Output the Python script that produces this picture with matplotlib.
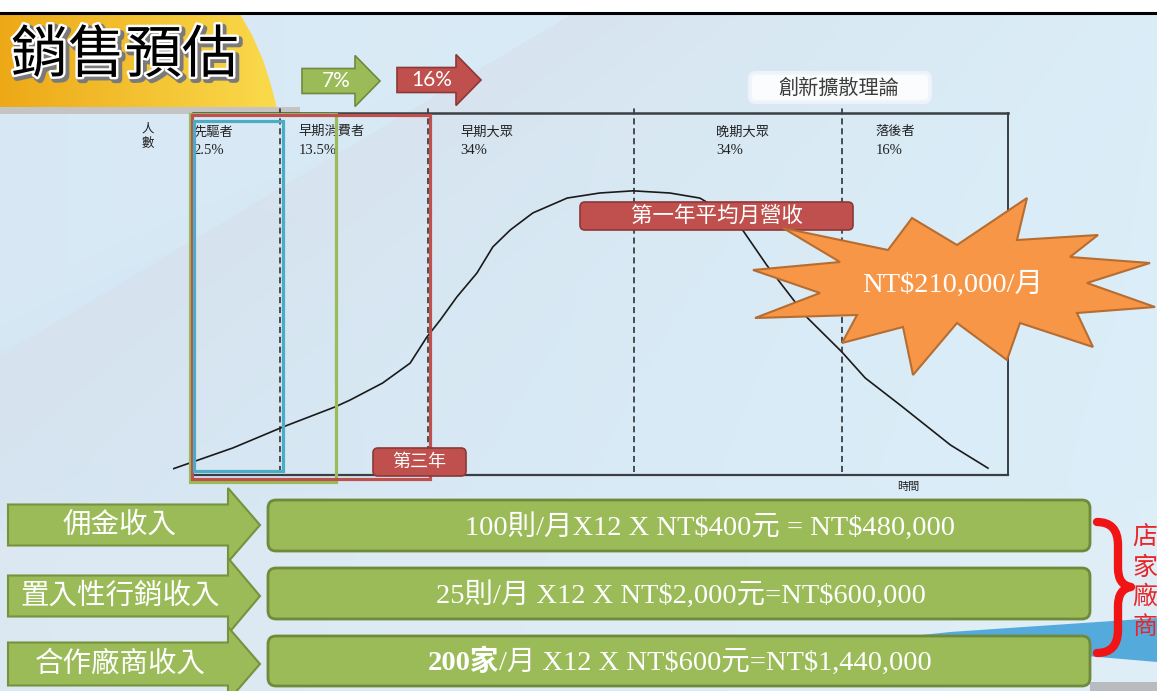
import numpy as np
import matplotlib
matplotlib.use('Agg')
import matplotlib.pyplot as plt
from matplotlib.patches import Polygon, FancyBboxPatch, Rectangle, PathPatch
from matplotlib.path import Path
import matplotlib.patheffects as pe

plt.rcParams['font.family'] = ['Noto Sans CJK TC', 'DejaVu Sans']

# ------------------------------------------------------------------ data
title = '銷售預估'
theory_label = '創新擴散理論'
adopter_names = ['先驅者', '早期消費者', '早期大眾', '晚期大眾', '落後者']
adopter_shares = ['2.5%', '13.5%', '34%', '34%', '16%']
segment_bounds = [12.8, 30.5, 55.2, 80.1]          # time where segments change
curve_time = [0.0, 7.2, 13.2, 19.4, 21.2, 25.1, 28.4, 30.4, 32.0, 34.0, 36.4,
              38.3, 40.4, 43.1, 47.2, 51.1, 55.1, 59.5, 63.1, 65.5, 68.3,
              71.1, 75.9, 80.1, 82.9, 87.1, 93.1, 97.6]
curve_people = [1.7, 7.5, 13.3, 18.8, 20.7, 25.4, 30.9, 38.1, 42.8, 49.2, 55.8,
                63.0, 67.7, 72.4, 76.5, 77.9, 78.5, 77.9, 76.5, 73.2, 67.4,
                58.0, 43.6, 34.0, 26.8, 19.3, 8.3, 1.9]
y_axis_label = '人\n數'
x_axis_label = '時間'
growth_steps = ['7%', '16%']
year_tag = '第三年'
revenue_title = '第一年平均月營收'
monthly_revenue = 'NT$210,000/月'
income_sources = ['佣金收入', '置入性行銷收入', '合作廠商收入']
income_bold = ['', '', '200家']
income_rest = ['100則/月X12 X NT$400元 = NT$480,000',
               '25則/月 X12 X NT$2,000元=NT$600,000',
               '/月 X12 X NT$600元=NT$1,440,000']
side_label = '店家廠商'

# ------------------------------------------------------------------ figure
W, H = 1157, 691
fig = plt.figure(figsize=(W / 100, H / 100), dpi=100)

def pixel_axes(z):
    a = fig.add_axes([0, 0, 1, 1], zorder=z)
    a.set_xlim(0, W)
    a.set_ylim(H, 0)
    a.axis('off')
    a.patch.set_alpha(0)
    return a

bg = pixel_axes(0)

# background gradient
yy, xx = np.mgrid[0:H, 0:W].astype(float)
c_left = np.array([0.835, 0.905, 0.955])
c_right = np.array([0.860, 0.935, 0.975])
t = (xx / W)[..., None]
img = c_left * (1 - t) + c_right * t
x_line = 150 + (265 - yy) / 157.0 * 263.0
d = xx - x_line
grey = np.where(d > 0, np.exp(-d / 350.0), 0.0)[..., None]
grey_col = np.array([0.845, 0.875, 0.915])
img = img * (1 - 0.6 * grey) + grey_col * 0.6 * grey
lighter = np.where(d < 0, np.clip(-d / 80.0, 0, 1), 0.0)[..., None]
img = img * (1 - 0.3 * lighter) + np.array([0.87, 0.93, 0.97]) * 0.3 * lighter
bot = np.clip((yy - 490) / 60.0, 0, 1)[..., None]
img = img * (1 - 0.35 * bot) + np.array([0.91, 0.93, 0.95]) * 0.35 * bot
img[:12] = 1.0
bg.imshow(img, extent=(0, W, H, 0), aspect='auto', zorder=0)

# blue swoosh bottom right
bg.add_patch(Polygon([(800, 648), (950, 632), (1157, 618), (1157, 662),
                      (1040, 652), (900, 652)], closed=True,
                     facecolor='#3d9fd8', edgecolor='none', alpha=0.85, zorder=1))
bg.add_patch(Rectangle((1090, 682), 67, 9, facecolor='#b8bcc0', edgecolor='none', zorder=1))

# top black rule
bg.plot([0, W], [12.5, 12.5], color='black', lw=2.2, zorder=3)

# yellow title area with gradient
ypoly = Polygon([(0, 14), (240, 14), (252, 35), (263, 60), (271, 85), (277, 108), (0, 108)],
                closed=True, facecolor='none', edgecolor='none')
bg.add_patch(ypoly)
ty = (xx[:120, :290] / 280.0)[..., None]
yimg = np.array([0.93, 0.66, 0.09]) * (1 - ty) + np.array([0.98, 0.86, 0.30]) * ty
yi = bg.imshow(yimg, extent=(0, 290, 120, 0), aspect='auto', zorder=2)
yi.set_clip_path(ypoly)
bg.add_patch(Rectangle((0, 107), 300, 7, facecolor='#c4c4c4', edgecolor='none', zorder=2))

bg.text(11, 56, title, fontsize=41, fontweight='medium', color='black', ha='left',
        va='center', zorder=4,
        path_effects=[pe.Stroke(linewidth=5, foreground='#7a7a7a', offset=(2, -2)),
                      pe.Stroke(linewidth=3.5, foreground='white'), pe.Normal()])

def arrow_poly(x0, xh, xt, yc, bh, hh):
    return [(x0, yc - bh), (xh, yc - bh), (xh, yc - hh), (xt, yc), (xh, yc + hh),
            (xh, yc + bh), (x0, yc + bh)]

# growth arrows at top
top_arrows = [(302, 355, 380, 81, '#9bbb59', '#71893f', 336),
              (397, 456, 481, 80, '#c0504d', '#8c3836', 432)]
for (x0, xh, xt, yc, fc, ec, tx), lab in zip(top_arrows, growth_steps):
    bg.add_patch(Polygon(arrow_poly(x0, xh, xt, yc, 12.5, 25.5), closed=True,
                         facecolor=fc, edgecolor=ec, lw=1.2, zorder=4))
    bg.text(tx, yc, lab, fontsize=15, color='white', family=['Lato', 'DejaVu Sans'],
            ha='center', va='center', zorder=5)

# theory label box
bg.add_patch(FancyBboxPatch((750, 73), 180, 29, boxstyle='round,pad=0,rounding_size=6',
                            facecolor='white', edgecolor='#eef5fa', lw=3, alpha=0.9, zorder=4))
bg.text(839, 88, theory_label, fontsize=14.5, color='#3c3c3c', ha='center', va='center', zorder=5)

# ------------------------------------------------------------------ chart axes
L, R, T, B = 173, 1008, 113, 475
ax = fig.add_axes([L / W, 1 - B / H, (R - L) / W, (B - T) / H], zorder=1)
ax.patch.set_alpha(0)
ax.set_xlim(0, 100)
ax.set_ylim(0, 100)
ax.set_xticks([])
ax.set_yticks([])
ax.spines['left'].set_visible(False)
for s in ['top', 'right', 'bottom']:
    ax.spines[s].set_color('#3a3f44')
ax.spines['top'].set_linewidth(1.8)
ax.spines['right'].set_linewidth(1.4)
ax.spines['bottom'].set_linewidth(1.6)
ax.spines['bottom'].set_bounds(2.4, 100)
ax.spines['top'].set_bounds(2.4, 100)

ax.plot(curve_time, curve_people, color='#1a1a1a', lw=1.2, solid_joinstyle='round')
ax.vlines(segment_bounds, 0.8, 101.5, colors='#222222', linestyles=(0, (4, 2.5)),
          lw=1.1, clip_on=False)

label_x = [2.4, 15.0, 34.4, 65.0, 84.1]
serif_cjk = ['Liberation Serif', 'Noto Sans CJK TC']
for lx, nm, sh in zip(label_x, adopter_names, adopter_shares):
    ax.text(lx, 94.7, nm, fontsize=9.5, color='#222', ha='left', va='center', family=serif_cjk)
    ax.text(lx, 89.6, sh, fontsize=10.5, color='#222', ha='left', va='center', family=serif_cjk)
ax.text(-3.0, 93.6, y_axis_label, fontsize=9, color='#222', ha='center', va='center',
        linespacing=1.2, clip_on=False)
ax.text(88.0, -3.4, x_axis_label, fontsize=8, color='#222', ha='center', va='center',
        clip_on=False)

# ------------------------------------------------------------------ foreground
fg = pixel_axes(2)

# highlight rectangles
fg.add_patch(Rectangle((190, 114), 146, 368, facecolor='none', edgecolor='#9bbb59', lw=2.3, zorder=2))
fg.add_patch(Rectangle((192, 115), 238, 364, facecolor='none', edgecolor='#c0504d', lw=2.3, zorder=3))
fg.add_patch(Rectangle((194, 121), 89, 350, facecolor='none', edgecolor='#4bacc6', lw=2.3, zorder=4))

def red_box(x0, y0, w, h, text, fs):
    fg.add_patch(FancyBboxPatch((x0, y0), w, h, boxstyle='round,pad=0,rounding_size=5',
                                facecolor='#c0504d', edgecolor='#8c3836', lw=1.2, zorder=6))
    fg.text(x0 + w / 2, y0 + h / 2, text, fontsize=fs, color='white', ha='center',
            va='center', zorder=7)

red_box(373, 448, 93, 28, year_tag, 13)
red_box(580, 202, 273, 28, revenue_title, 15.5)

# starburst
star = [(753, 270), (840, 262), (783, 228), (888, 250), (912, 218), (957, 245),
        (1027, 198), (1017, 240), (1098, 235), (1070, 257), (1150, 263), (1087, 283),
        (1155, 307), (1077, 313), (1093, 347), (1020, 323), (1007, 360), (957, 323),
        (913, 375), (903, 327), (842, 343), (857, 315), (755, 318), (820, 293)]
fg.add_patch(Polygon(star, closed=True, facecolor='#f79646', edgecolor='#b66d31',
                     lw=1.5, joinstyle='miter', zorder=6))
fg.text(953, 285, monthly_revenue, fontsize=20.5, color='white', ha='center', va='center',
        family=serif_cjk, parse_math=False, zorder=7)

# income arrows on the left
arrows_y = [(525, 20.5, 37), (596, 20.5, 38), (664, 21.5, 37)]
for (yc, bh, hh), lab in zip(arrows_y, income_sources):
    fg.add_patch(Polygon(arrow_poly(8, 228, 260, yc, bh, hh), closed=True,
                         facecolor='#9bbb59', edgecolor='#76923c', lw=1.5, zorder=5))
    fg.text(120, yc, lab, fontsize=20.5, color='white', ha='center', va='center', zorder=6)

# formula boxes
boxes_y = [(500, 51), (568, 51), (636, 50)]
text_cx = [710, 681, 680]
fig.canvas.draw()
renderer = fig.canvas.get_renderer()
for (y0, h), cx, bpart, rest in zip(boxes_y, text_cx, income_bold, income_rest):
    fg.add_patch(FancyBboxPatch((268, y0), 822, h, boxstyle='round,pad=0,rounding_size=8',
                                facecolor='#9bbb59', edgecolor='#6e8a3a', lw=2, zorder=5))
    yb = y0 + h / 2 + 9
    parts = []
    if bpart:
        parts.append(fg.text(0, yb, bpart, fontsize=20.5, fontweight='bold', color='white',
                             ha='left', va='baseline', family=serif_cjk,
                             parse_math=False, zorder=6))
    parts.append(fg.text(0, yb, rest, fontsize=20.5, color='white', ha='left',
                         va='baseline', family=serif_cjk, parse_math=False, zorder=6))
    widths = [p.get_window_extent(renderer).width for p in parts]
    xstart = cx - sum(widths) / 2
    for p, wpx in zip(parts, widths):
        p.set_x(xstart)
        xstart += wpx

# red brace
bx = [(1097, 522), (1118, 522), (1118, 545), (1118, 568), (1118, 585), (1131, 587),
      (1118, 589), (1118, 606), (1118, 630), (1118, 653), (1097, 653)]
codes = [Path.MOVETO, Path.CURVE3, Path.CURVE3, Path.LINETO, Path.CURVE3, Path.CURVE3,
         Path.CURVE3, Path.CURVE3, Path.LINETO, Path.CURVE3, Path.CURVE3]
fg.add_patch(PathPatch(Path(bx, codes), facecolor='none', edgecolor='#f01414', lw=6,
                       capstyle='round', joinstyle='round', zorder=6))
for i, ch in enumerate(side_label):
    fg.text(1132, 538 + 29.5 * i, ch, fontsize=18, color='#e8262a', ha='left',
            va='center', zorder=6)

fig.savefig('out.png', dpi=100)
